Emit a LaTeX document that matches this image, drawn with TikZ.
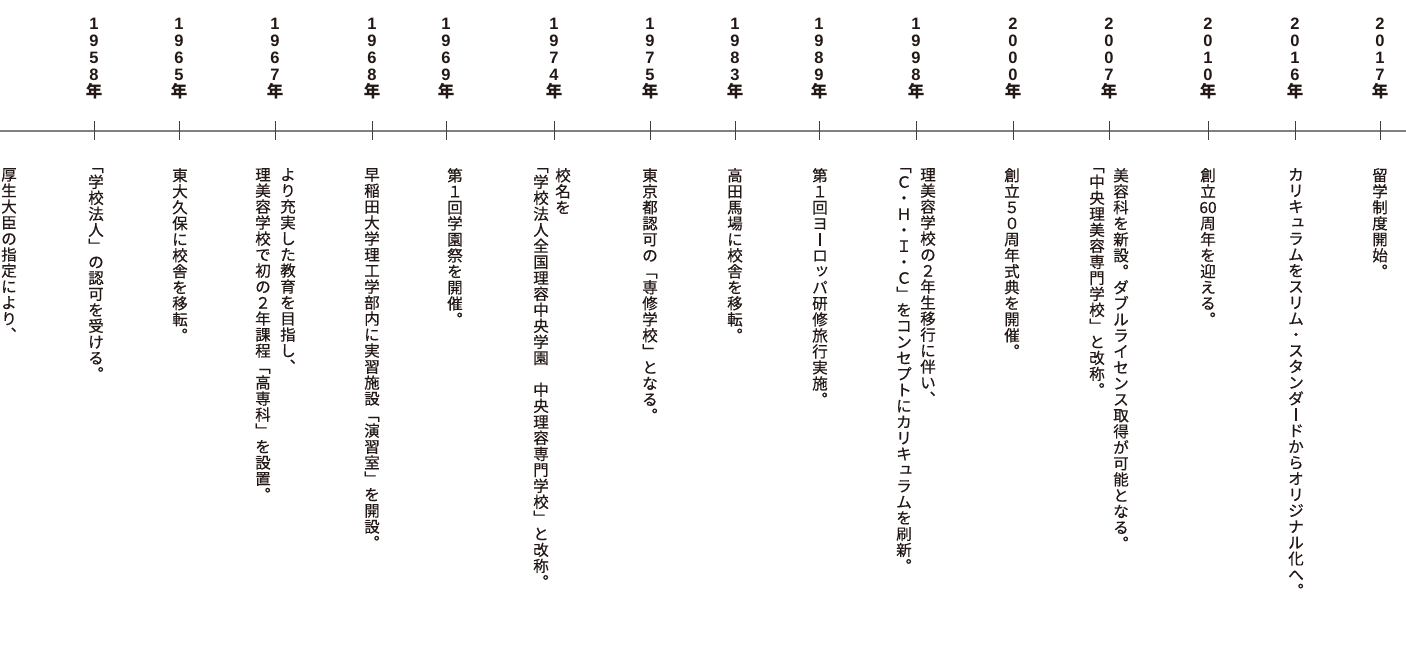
\documentclass[tikz,border=0pt]{standalone}
\usepackage{fontspec}
\newfontfamily\jpbody[FakeBold=0.45]{Noto Sans CJK JP}
\newfontfamily\jpyr{Noto Sans CJK JP}
\newfontfamily\digfont{Liberation Sans}
\definecolor{ink}{HTML}{231815}
\newdimen\vtw
\def\vtend{\vtend}
\def\vtloop#1{\ifx\vtend#1\else\hbox to\vtw{\hss#1\hss}\expandafter\vtloop\fi}
\newcommand\sm[1]{\raisebox{0.13em}{\kern0.12em#1\kern-0.12em}}
\newcommand\vbar{\vrule width 0.075em height 0.78em depth 0.02em}
\newcommand\vcol[1]{\vtop{\vtw=16pt\jpbody\fontsize{15.5pt}{16pt}\selectfont
  \baselineskip=16pt\lineskiplimit=-100pt\lineskip=0pt\vtloop#1\vtend}}
\newcommand\vyr[1]{\vtop{\vtw=16pt\digfont\bfseries\fontsize{16.5pt}{17pt}\selectfont
  \baselineskip=17pt\lineskiplimit=-100pt\lineskip=0pt\vtloop#1\vtend
  \hbox to\vtw{\hss\jpyr\bfseries 年\hss}}}
\tikzset{
  body/.style={inner sep=0pt, anchor=north, text=ink},
  yr/.style={inner sep=0pt, anchor=north, text=ink},
  tick/.style={draw=black!75, line width=0.9pt},
  axis/.style={draw=black!50, line width=1.1pt}
}
\begin{document}
\begin{tikzpicture}[x=1pt,y=-1pt]
\useasboundingbox (0,0) rectangle (1406,660);
\coordinate (L) at (0,131);
\coordinate (R) at (1406,131);
\draw[axis] (L) -- (R);
\foreach \x/\yy in {94/1958,179/1965,275/1967,372/1968,446/1969,554/1974,650/1975,735/1983,819/1989,916/1998,1013/2000,1109/2007,1208/2010,1295/2016,1380/2017}{
  \node[yr] (y\yy) at (\x,18) {\expandafter\vyr\expandafter{\yy}};
  \coordinate (a\yy) at (\x,121);
  \coordinate (b\yy) at (\x,140);
  \draw[tick] (a\yy) -- (b\yy);
}
\node[body] (t1957) at (9,168) {\vcol{厚生大臣の指定により︑}};
\node[body] (t1958) at (96,168) {\vcol{﹁学校法人﹂の認可を受ける︒}};
\node[body] (t1965) at (180,168) {\vcol{東大久保に校舎を移転︒}};
\node[body] (t1967a) at (288,168) {\vcol{より充実した教育を目指し︑}};
\node[body] (t1967b) at (263,168) {\vcol{理美容学校で初の２年課程﹁高専科﹂を設置︒}};
\node[body] (t1968) at (372,168) {\vcol{早稲田大学理工学部内に実習施設﹁演習室﹂を開設︒}};
\node[body] (t1969) at (455,168) {\vcol{第１回学園祭を開催︒}};
\node[body] (t1974a) at (563,168) {\vcol{校名を}};
\node[body] (t1974b) at (541,168) {\vcol{﹁学校法人全国理容中央学園　中央理容専門学校﹂と改称︒}};
\node[body] (t1975) at (650,168) {\vcol{東京都認可の﹁専修学校﹂となる︒}};
\node[body] (t1983) at (735,168) {\vcol{高田馬場に校舎を移転︒}};
\node[body] (t1989) at (820,168) {\vcol{第１回ヨ\vbar ロ{\sm{ッ}}パ研修旅行実施︒}};
\node[body] (t1998a) at (928,168) {\vcol{理美容学校の２年生移行に伴い︑}};
\node[body] (t1998b) at (904,168) {\vcol{﹁Ｃ・Ｈ・Ｉ・Ｃ﹂をコンセプトにカリキ{\sm{ュ}}ラムを刷新︒}};
\node[body] (t2000) at (1012,168) {\vcol{創立５０周年式典を開催︒}};
\node[body] (t2007a) at (1121,168) {\vcol{美容科を新設︒ダブルライセンス取得が可能となる︒}};
\node[body] (t2007b) at (1097,168) {\vcol{﹁中央理美容専門学校﹂と改称︒}};
\node[body] (t2010) at (1208,168) {\vcol{創立{60}周年を迎える︒}};
\node[body] (t2016) at (1296,168) {\vcol{カリキ{\sm{ュ}}ラムをスリム・スタンダ\vbar ドからオリジナル化へ︒}};
\node[body] (t2017) at (1380,168) {\vcol{留学制度開始︒}};
\end{tikzpicture}
\end{document}
